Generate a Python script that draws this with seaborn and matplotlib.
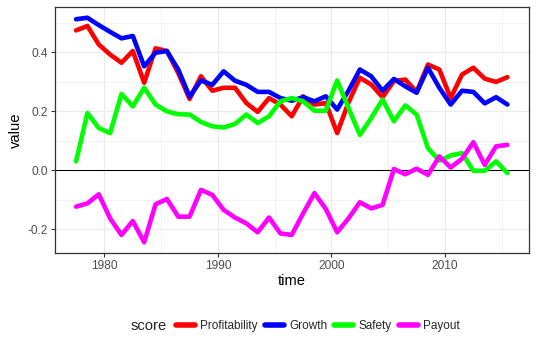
import numpy as np
import pandas as pd
import matplotlib
matplotlib.use('Agg')
import matplotlib.pyplot as plt
import seaborn as sns
from matplotlib.ticker import MultipleLocator

# data
years = [1977.5, 1978.5, 1979.5, 1980.5, 1981.5, 1982.5, 1983.5, 1984.5, 1985.5, 1986.5,
         1987.5, 1988.5, 1989.5, 1990.5, 1991.5, 1992.5, 1993.5, 1994.5, 1995.5, 1996.5,
         1997.5, 1998.5, 1999.5, 2000.5, 2001.5, 2002.5, 2003.5, 2004.5, 2005.5, 2006.5,
         2007.5, 2008.5, 2009.5, 2010.5, 2011.5, 2012.5, 2013.5, 2014.5, 2015.5]

profitability = [0.475, 0.490, 0.427, 0.393, 0.365, 0.405, 0.297, 0.414, 0.405, 0.330,
                 0.242, 0.319, 0.270, 0.280, 0.280, 0.228, 0.198, 0.245, 0.223, 0.183,
                 0.251, 0.223, 0.228, 0.126, 0.230, 0.314, 0.291, 0.248, 0.303, 0.308,
                 0.266, 0.359, 0.342, 0.245, 0.325, 0.348, 0.311, 0.300, 0.316]
growth = [0.513, 0.518, 0.493, 0.470, 0.448, 0.456, 0.353, 0.399, 0.405, 0.342,
          0.250, 0.305, 0.290, 0.336, 0.304, 0.290, 0.266, 0.266, 0.245, 0.236,
          0.248, 0.234, 0.251, 0.206, 0.270, 0.342, 0.319, 0.270, 0.310, 0.285,
          0.263, 0.348, 0.280, 0.223, 0.270, 0.266, 0.227, 0.248, 0.223]
safety = [0.030, 0.194, 0.143, 0.126, 0.259, 0.217, 0.280, 0.223, 0.200, 0.190,
          0.189, 0.164, 0.149, 0.145, 0.157, 0.189, 0.160, 0.183, 0.234, 0.245,
          0.234, 0.202, 0.202, 0.305, 0.211, 0.120, 0.177, 0.240, 0.166, 0.220,
          0.189, 0.075, 0.032, 0.050, 0.058, -0.002, -0.002, 0.030, -0.010]
payout = [-0.124, -0.113, -0.082, -0.164, -0.220, -0.173, -0.245, -0.116, -0.098, -0.158,
          -0.158, -0.067, -0.084, -0.135, -0.161, -0.181, -0.211, -0.161, -0.215, -0.220,
          -0.147, -0.078, -0.132, -0.211, -0.164, -0.109, -0.130, -0.118, 0.004, -0.014,
          0.005, -0.016, 0.047, 0.009, 0.039, 0.095, 0.018, 0.081, 0.086]

scores = ['Profitability', 'Growth', 'Safety', 'Payout']
colors = ['#FF0000', '#0000FF', '#00FF00', '#FF00FF']

df = pd.DataFrame({'time': years, 'Profitability': profitability, 'Growth': growth,
                   'Safety': safety, 'Payout': payout})
long_df = df.melt(id_vars='time', var_name='score', value_name='value')

sns.set_style('white')
plt.rcParams['font.family'] = ['Liberation Sans', 'DejaVu Sans']

fig = plt.figure(figsize=(5.37, 3.5), dpi=100)
ax = fig.add_axes([54.5 / 537, 1 - 253 / 350, (529 - 54.5) / 537, (253 - 7) / 350])

ax.axhline(0, color='black', linewidth=0.75, zorder=1)
sns.lineplot(data=long_df, x='time', y='value', hue='score', hue_order=scores,
             palette=colors, linewidth=3.3, ax=ax, legend=False, zorder=3)

ax.set_xlim(1975.6, 2017.4)
ax.set_ylim(-0.2815, 0.5545)
ax.xaxis.set_major_locator(MultipleLocator(10))
ax.xaxis.set_minor_locator(MultipleLocator(5))
ax.yaxis.set_major_locator(MultipleLocator(0.2))
ax.yaxis.set_minor_locator(MultipleLocator(0.1))
ax.yaxis.set_major_formatter(plt.FuncFormatter(lambda v, p: f'{v:.1f}'))

ax.grid(which='major', color='#EBEBEB', linewidth=0.9, zorder=0)
ax.grid(which='minor', color='#EBEBEB', linewidth=0.45, zorder=0)
ax.set_axisbelow(True)
for s in ax.spines.values():
    s.set_color('#333333')
    s.set_linewidth(0.9)

ax.tick_params(axis='both', which='major', length=2.7, width=0.8, color='#333333',
               labelcolor='#4D4D4D', labelsize=8.6, pad=2, bottom=True, left=True)
ax.tick_params(axis='both', which='minor', length=0)
ax.set_xlabel('time', fontsize=10.6, color='black', labelpad=2)
ax.set_ylabel('value', fontsize=10.6, color='black', labelpad=3)

handles = [plt.Line2D([], [], color=c, linewidth=4) for c in colors]
leg = fig.legend(handles, scores, loc='center', bbox_to_anchor=(318 / 537, 1 - 326 / 350),
                 ncol=4, frameon=False, fontsize=8.5, handlelength=1.6,
                 handletextpad=0.45, columnspacing=0.6)
fig.text(167 / 537, 1 - 326 / 350, 'score', ha='right', va='center', fontsize=10.6)

fig.savefig('out.png', dpi=100)
